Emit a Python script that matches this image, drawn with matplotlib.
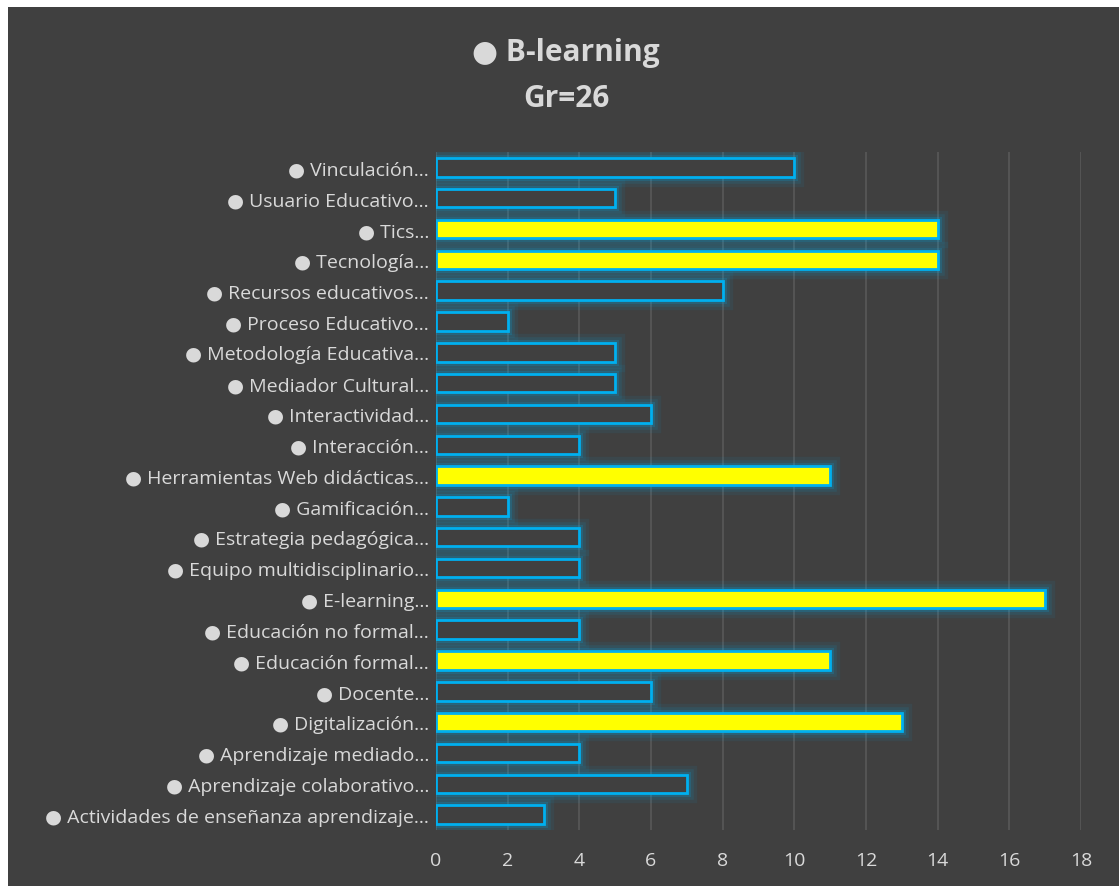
import matplotlib.pyplot as plt
import matplotlib.patheffects as pe
from matplotlib.patches import Rectangle

categories = ['● Vinculación…', '● Usuario Educativo…', '● Tics…', '● Tecnología…',
              '● Recursos educativos…', '● Proceso Educativo…', '● Metodología Educativa…',
              '● Mediador Cultural…', '● Interactividad…', '● Interacción…',
              '● Herramientas Web didácticas…', '● Gamificación…', '● Estrategia pedagógica…',
              '● Equipo multidisciplinario…', '● E-learning…', '● Educación no formal…',
              '● Educación formal…', '● Docente…', '● Digitalización…',
              '● Aprendizaje mediado…', '● Aprendizaje colaborativo…',
              '● Actividades de enseñanza aprendizaje…']
values = [10, 5, 14, 14, 8, 2, 5, 5, 6, 4, 11, 2, 4, 4, 17, 4, 11, 6, 13, 4, 7, 3]
highlight = [False, False, True, True, False, False, False, False, False, False,
             True, False, False, False, True, False, True, False, True, False, False, False]
xticks = [0, 2, 4, 6, 8, 10, 12, 14, 16, 18]

bg = '#404040'
txt = '#d9d9d9'
edge = '#00b0f0'

plt.rcParams['font.family'] = ['Open Sans', 'DejaVu Sans']

fig = plt.figure(figsize=(11.19, 8.87), dpi=100, facecolor='white')
fig.patches.append(Rectangle((8 / 1119, 0), 1, 1 - 8 / 887, transform=fig.transFigure,
                             facecolor=bg, edgecolor='none', zorder=-10))

ax = fig.add_axes([436 / 1119, 1 - 831 / 887, (1081 - 436) / 1119, (831 - 153) / 887])
ax.set_facecolor('none')

n = len(categories)
ypos = list(range(n))[::-1]
faces = ['#ffff00' if h else bg for h in highlight]
bars = ax.barh(ypos, values, height=0.6, color=faces, edgecolor=edge, linewidth=2, zorder=3)
for b in bars:
    b.set_path_effects([pe.Stroke(linewidth=14, foreground=edge, alpha=0.07),
                        pe.Stroke(linewidth=9, foreground=edge, alpha=0.1),
                        pe.Stroke(linewidth=5, foreground=edge, alpha=0.18),
                        pe.Normal()])

ax.set_yticks(ypos)
ax.set_yticklabels(categories, fontsize=14, color=txt)
ax.set_xticks(xticks)
ax.set_xticklabels([str(t) for t in xticks], fontsize=14, color=txt)
ax.set_xlim(0, 18)
ax.set_ylim(-0.5, n - 0.5)
ax.tick_params(axis='both', length=0)
ax.tick_params(axis='x', pad=15)
ax.tick_params(axis='y', pad=5)
ax.grid(axis='x', color='#595959', linewidth=1.2, zorder=0)
for s in ax.spines.values():
    s.set_visible(False)

fig.text(566 / 1119, 1 - 76 / 887, '● B-learning\nGr=26', ha='center', va='center',
         fontsize=21.5, fontweight='bold', color=txt, linespacing=1.7)

plt.savefig('out.png', dpi=100, facecolor=fig.get_facecolor())
